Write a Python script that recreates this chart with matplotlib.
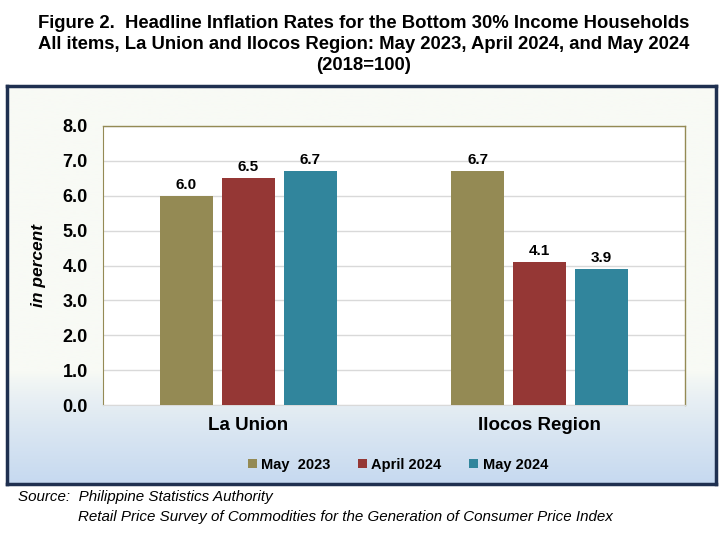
import numpy as np
import matplotlib.pyplot as plt
from matplotlib.colors import LinearSegmentedColormap

plt.rcParams['font.family'] = ['Liberation Sans', 'DejaVu Sans']

# data
categories = ['La Union', 'Ilocos Region']
series = ['May  2023', 'April 2024', 'May 2024']
may_2023 = [6.0, 6.7]
april_2024 = [6.5, 4.1]
may_2024 = [6.7, 3.9]
colors = ['#948A54', '#953735', '#31859C']

W, H = 719, 534
fig = plt.figure(figsize=(W / 100, H / 100), dpi=100)

# outer box with gradient background
box_l, box_b, box_r, box_t = 7 / W, 1 - 484 / H, 716 / W, 1 - 86 / H
bg = fig.add_axes([box_l, box_b, box_r - box_l, box_t - box_b], zorder=0)
t = np.linspace(0, 1, 256)
grad = np.clip((t - 0.72) / 0.28, 0, 1) ** 0.8
cmap = LinearSegmentedColormap.from_list('bg', ['#F8FAF5', '#C6D9F0'])
bg.imshow(grad[:, None], aspect='auto', cmap=cmap, vmin=0, vmax=1, extent=[0, 1, 0, 1])
bg.set_xticks([])
bg.set_yticks([])
for s in bg.spines.values():
    s.set_color('#1F3050')
    s.set_linewidth(2.5)

# plot area
ax = fig.add_axes([103 / W, 1 - 405 / H, (685 - 103) / W, (405 - 126) / H], zorder=1)
ax.set_facecolor('white')
x = np.arange(len(categories))
width = 0.179
step = 0.213
for i, (vals, lab) in enumerate(zip([may_2023, april_2024, may_2024], series)):
    bars = ax.bar(x + (i - 1) * step, vals, width, color=colors[i], label=lab, zorder=3)
    for b, v in zip(bars, vals):
        ax.text(b.get_x() + b.get_width() / 2, v + 0.12, f'{v:.1f}', ha='center', va='bottom',
                fontsize=11, fontweight='bold', zorder=4)

ax.set_xlim(-0.5, 1.5)
ax.set_ylim(0, 8)
ax.set_yticks(np.arange(0, 8.1, 1))
ax.set_yticklabels([f'{v:.1f}' for v in np.arange(0, 8.1, 1)], fontsize=13, fontweight='bold')
ax.set_xticks(x)
ax.set_xticklabels(categories, fontsize=13.5, fontweight='bold')
ax.tick_params(axis='both', length=0)
ax.tick_params(axis='y', pad=11)
ax.tick_params(axis='x', pad=9)
ax.grid(axis='y', color='#D9D9D9', linewidth=1, zorder=0)
for side in ['top', 'right']:
    ax.spines[side].set_color('#948A54')
    ax.spines[side].set_linewidth(1)
ax.spines['left'].set_color('#948A54')
ax.spines['bottom'].set_color('#D9D9D9')
ax.set_ylabel('in percent', fontsize=12.5, fontweight='bold', fontstyle='italic', labelpad=12)

leg = fig.legend(loc='center', bbox_to_anchor=(398 / W, 1 - 465 / H), ncol=3, frameon=False,
                 handlelength=0.6, handleheight=0.6, handletextpad=0.3, columnspacing=1.9,
                 prop={'weight': 'bold', 'size': 10.5})

# title
title_lines = ['Figure 2.  Headline Inflation Rates for the Bottom 30% Income Households',
               'All items, La Union and Ilocos Region: May 2023, April 2024, and May 2024',
               '(2018=100)']
for k, line in enumerate(title_lines):
    fig.text(364 / W, 1 - (23 + 21.5 * k) / H, line, ha='center', va='center',
             fontsize=13.3, fontweight='bold')

# source
fig.text(18 / W, 1 - 497 / H, 'Source:  Philippine Statistics Authority', fontsize=10.9,
         fontstyle='italic', va='center')
fig.text(78 / W, 1 - 517 / H,
         'Retail Price Survey of Commodities for the Generation of Consumer Price Index',
         fontsize=10.9, fontstyle='italic', va='center')

fig.savefig('out.png', dpi=100)
